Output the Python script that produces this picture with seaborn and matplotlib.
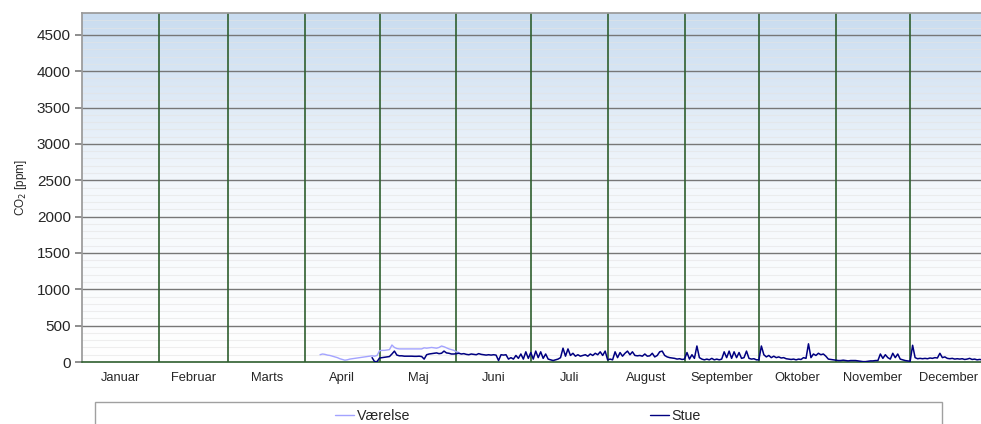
import numpy as np
import pandas as pd
import seaborn as sns
import matplotlib.pyplot as plt
from matplotlib.colors import LinearSegmentedColormap
from matplotlib.patches import Rectangle
from matplotlib.lines import Line2D

months = ['Januar', 'Februar', 'Marts', 'April', 'Maj', 'Juni', 'Juli',
          'August', 'September', 'Oktober', 'November', 'December']
month_days = [31, 28, 31, 30, 31, 30, 31, 31, 30, 31, 30, 31]

# daglige CO2-værdier [ppm]
vaer_april = [100, 110, 105, 95, 90, 80, 70, 60, 45, 35, 25, 30, 40, 45, 50,
              55, 60, 65, 70, 75, 80, 85, 80, 90]  # fra 7. april
vaer_maj = [155, 160, 160, 165, 170, 234, 200, 185, 180, 180, 180, 180, 180,
            180, 180, 180, 180, 180, 195, 190, 195, 200, 195, 190, 200, 220,
            210, 195, 180, 170, 160]
vaer_juni = [140, 130]

stue_april = [60, 5, 5]  # fra 28. april
stue_maj = [55, 60, 65, 70, 75, 110, 150, 95, 85, 85, 80, 80, 80, 80, 78, 78,
            80, 75, 40, 100, 110, 115, 120, 125, 115, 120, 150, 125, 120, 110,
            110]
stue_juni = [115, 120, 110, 115, 105, 100, 110, 105, 100, 115, 105, 100, 95,
             100, 95, 100, 95, 20, 100, 95, 100, 40, 60, 40, 90, 50, 110, 40,
             140, 50]
stue_juli = [130, 40, 150, 60, 140, 50, 110, 40, 30, 20, 30, 40, 60, 190, 80,
             180, 90, 120, 80, 100, 80, 90, 100, 80, 110, 90, 120, 100, 140,
             90, 150]
stue_aug = [30, 40, 30, 140, 60, 130, 80, 120, 150, 100, 140, 90, 85, 90, 80,
            110, 80, 85, 120, 70, 90, 140, 150, 90, 70, 60, 55, 50, 40, 45, 35]
stue_sep = [40, 130, 40, 100, 50, 220, 60, 40, 30, 40, 30, 50, 30, 40, 30, 40,
            140, 60, 150, 50, 140, 60, 130, 50, 60, 150, 50, 40, 45, 30]
stue_okt = [30, 220, 100, 70, 90, 60, 80, 60, 70, 55, 60, 45, 40, 35, 40, 30,
            40, 35, 60, 50, 250, 60, 110, 90, 120, 100, 110, 80, 40, 35, 30]
stue_nov = [25, 20, 20, 25, 20, 15, 20, 20, 20, 15, 10, 5, 5, 10, 15, 15, 20,
            20, 110, 50, 100, 60, 40, 120, 60, 110, 40, 30, 20, 15]
stue_dec = [10, 230, 60, 45, 50, 45, 50, 45, 55, 50, 60, 55, 120, 60, 70, 50,
            45, 50, 40, 45, 40, 45, 35, 40, 50, 35, 40, 30, 35, 30, 30]

month_start = np.concatenate([[0], np.cumsum(month_days)])


def series(name, first_day, parts):
    vals = np.concatenate(parts)
    return pd.DataFrame({'dag': first_day + np.arange(len(vals)),
                         'co2': vals, 'rum': name})


vaer = series('Værelse', month_start[3] + 6, [vaer_april, vaer_maj, vaer_juni])
stue = series('Stue', month_start[3] + 27,
              [stue_april, stue_maj, stue_juni, stue_juli, stue_aug,
               stue_sep, stue_okt, stue_nov, stue_dec])

sns.set_theme(style='white')
plt.rcParams['font.family'] = ['Liberation Sans', 'DejaVu Sans']

fig = plt.figure(figsize=(9.81, 4.24), dpi=100)
ax = fig.add_axes([82 / 981, 1 - 362 / 424, 905 / 981, 349 / 424])

ymax = 4800
grad = LinearSegmentedColormap.from_list('bg', ['#ffffff', '#f4f8fc', '#c9dcf0'])
ax.imshow(np.linspace(0, 1, 256).reshape(-1, 1), cmap=grad, origin='lower',
          extent=[0, 365, 0, ymax], aspect='auto', zorder=0)

for y in range(100, ymax, 100):
    if y % 500:
        ax.axhline(y, color='#e4e4e4', lw=0.8, alpha=0.6, zorder=1)
for y in range(500, ymax, 500):
    ax.axhline(y, color='#777777', lw=1, zorder=1)
for d in month_start[1:-1]:
    ax.axvline(d, color='#2f5f2f', lw=1.2, zorder=2)

sns.lineplot(data=vaer, x='dag', y='co2', ax=ax, color='#a3a3ff', lw=1,
             zorder=3, legend=False)
sns.lineplot(data=stue, x='dag', y='co2', ax=ax, color='#000080', lw=1.1,
             zorder=4, legend=False)

ax.set_xlim(0, 365)
ax.set_ylim(0, ymax)
ax.set_yticks(range(0, ymax, 500))
ax.set_xticks((month_start[:-1] + month_start[1:]) / 2)
ax.set_xticklabels(months, fontsize=9.3)
ax.tick_params(axis='x', length=0, pad=7)
ax.tick_params(axis='y', labelsize=11, length=5, color='#808080', left=True,
               pad=3)
ax.set_xlabel('')
ax.set_ylabel('CO$_2$ [ppm]', fontsize=8.5, labelpad=6)
for side in ['left', 'top']:
    ax.spines[side].set_color('#9a9a9a')
ax.spines['right'].set_visible(False)
ax.spines['bottom'].set_color('#2f5f2f')
ax.spines['bottom'].set_linewidth(1.2)

fig.patches.append(Rectangle((95 / 981, -0.2), 847 / 981, 0.2 + 22 / 424,
                             transform=fig.transFigure, fill=False,
                             edgecolor='#a0a0a0', lw=1))
handles = [Line2D([], [], color='#a3a3ff', lw=1),
           Line2D([], [], color='#000080', lw=1)]
fig.legend(handles, ['Værelse', 'Stue'], ncol=2, frameon=False, fontsize=10.3,
           loc='center left', bbox_to_anchor=(335 / 981, 1 - 416 / 424),
           handlelength=1.3, handletextpad=0.2, columnspacing=16.8,
           borderpad=0, borderaxespad=0)

fig.savefig('out.png', dpi=100)
